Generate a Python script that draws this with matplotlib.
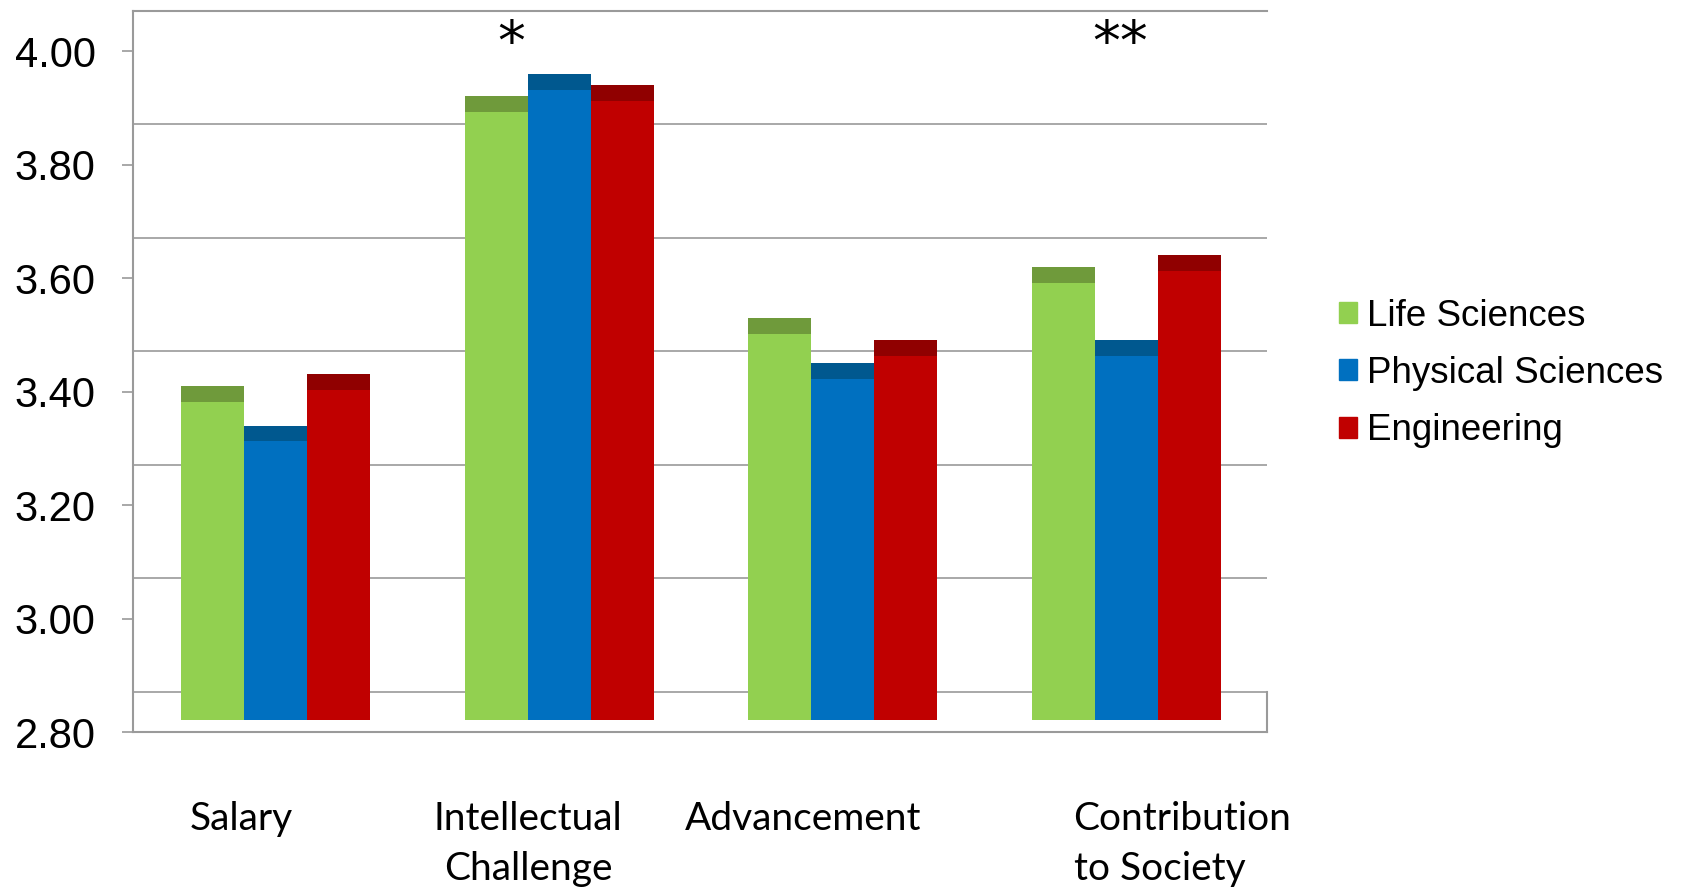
import matplotlib
matplotlib.use("Agg")
import matplotlib.pyplot as plt
import matplotlib.patches as patches
import numpy as np

# mean scores (read at the top of each bar)
categories = ["Salary", "Intellectual\nChallenge", "Advancement", "Contribution\nto Society"]
series = ["Life Sciences", "Physical Sciences", "Engineering"]
life_sci = [3.41, 3.92, 3.53, 3.62]
phys_sci = [3.34, 3.96, 3.45, 3.49]
engineering = [3.43, 3.94, 3.49, 3.64]
significance = ["", "*", "", "**"]
yticks = [2.80, 3.00, 3.20, 3.40, 3.60, 3.80, 4.00]

face_colors = ["#92D050", "#0070C0", "#C00000"]
cap_colors = ["#6F9A3B", "#00588F", "#900000"]

# pseudo-3D look of the original (back wall shifted up, bars sit on the floor)
depth = 0.0705      # back wall offset
bar_floor = 0.021   # bar front face starts a bit above the front edge
cap = 0.028         # height of the darker top face
bar_w = 0.222
grid_color = "#9A9A9A"

fig = plt.figure(figsize=(16.89, 8.88), dpi=100)
ax = fig.add_axes([133 / 1689, 156 / 888, (1267 - 133) / 1689, 721 / 888])
ax.set_xlim(-0.503, 3.497)
ax.set_ylim(yticks[0], yticks[-1] + depth)

# back wall gridlines
for t in yticks:
    ax.axhline(t + depth, color=grid_color, lw=1.2, zorder=1)
# floor right edge
ax.plot([3.497, 3.497], [yticks[0], yticks[0] + depth], color=grid_color, lw=1.5,
        clip_on=False, zorder=1)

x = np.arange(len(categories))
base = yticks[0] + bar_floor
for k, vals in enumerate([life_sci, phys_sci, engineering]):
    xs = x + (k - 1) * bar_w
    vals = np.array(vals)
    ax.bar(xs, vals - cap - base, bottom=base, width=bar_w, color=face_colors[k],
           zorder=2, label=series[k])
    ax.bar(xs, cap, bottom=vals - cap, width=bar_w, color=cap_colors[k], zorder=2)

for i, s in enumerate(significance):
    if s:
        dx = -0.17 if len(s) == 1 else -0.02
        ax.text(x[i] + dx, yticks[-1] + 0.011, s, ha="center", va="center",
                fontsize=40, family="DejaVu Sans", zorder=3)

# category labels (text boxes under the chart)
label_dx = [-0.122, -0.11, -0.141, 0.199]
label_align = ["center", "center", "center", "left"]
for i, lab in enumerate(categories):
    ax.text(x[i] + label_dx[i], yticks[0] - 0.122, lab, ha="center", va="top",
            multialignment=label_align[i], fontsize=28, family="Lato",
            linespacing=1.47, clip_on=False)

ax.set_yticks(yticks)
ax.set_yticklabels([f"{t:.2f}" for t in yticks], fontsize=30, family="Liberation Sans")
ax.set_xticks([])
ax.tick_params(axis="y", length=8, width=1.2, color=grid_color, pad=19)
for side in ["left", "bottom", "top"]:
    ax.spines[side].set_color(grid_color)
    ax.spines[side].set_linewidth(1.5)
ax.spines["right"].set_visible(False)
ax.spines["top"].set_zorder(1)

handles = [patches.Patch(color=c) for c in face_colors]
fig.legend(handles, series, loc="center left", bbox_to_anchor=(1339 / 1689, 1 - 373.5 / 888),
           frameon=False, prop={"family": "Liberation Sans", "size": 26.5},
           handlelength=0.5, handleheight=0.5, handletextpad=0.25, labelspacing=0.6,
           borderpad=0, borderaxespad=0)

fig.savefig("out.png", dpi=100)
